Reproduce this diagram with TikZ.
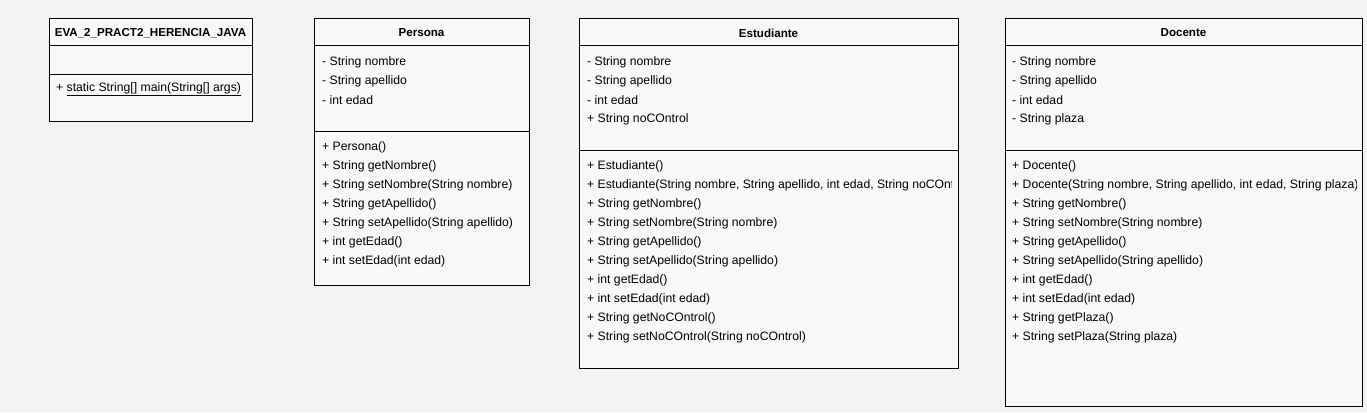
\documentclass[tikz,border=0pt]{standalone}
\usepackage{fontspec}
\setmainfont{Liberation Sans}
\definecolor{bgc}{HTML}{F2F2F2}
\definecolor{boxfill}{HTML}{F8F8F8}
\begin{document}
\begin{tikzpicture}[x=1pt,y=-1pt,
  classbox/.style={draw=black, fill=boxfill, line width=1pt, inner sep=0pt, anchor=north west},
  txt/.style={anchor=west, inner sep=0pt, font=\fontsize{12.2}{14}\selectfont, text=black},
  hdr/.style={anchor=center, inner sep=0pt, font=\fontsize{11.6}{14}\selectfont\bfseries, text=black},
  sep/.style={draw=black, line width=1pt}]
\fill[bgc] (0,0) rectangle (1367,412);
\useasboundingbox (0,0) rectangle (1367,412);

% ---------- main class ----------
\node[classbox, minimum width=203pt, minimum height=103pt] (mainc) at (49,18) {};
\draw[sep] (49,46) -- (252,46);
\draw[sep] (49,74) -- (252,74);
\node[hdr] (mainh) at (150.5,33) {EVA\_2\_PRACT2\_HERENCIA\_JAVA};
\node[txt] (mainm) at (56,89) {+ \underline{static String[] main(String[] args)}};

% ---------- Persona ----------
\node[classbox, minimum width=215pt, minimum height=267pt] (persona) at (314,18) {};
\draw[sep] (314,46) -- (529,46);
\draw[sep] (314,131) -- (529,131);
\node[hdr] (personah) at (421.5,33) {Persona};
\foreach \t [count=\i] in {- String nombre, - String apellido, - int edad}
  \node[txt] (pa\i) at (322,43+19*\i) {\t};
\foreach \t [count=\i] in {+ Persona(), + String getNombre(), + String setNombre(String nombre), + String getApellido(), + String setApellido(String apellido), + int getEdad(), + int setEdad(int edad)}
  \node[txt] (pm\i) at (322,128+19*\i) {\t};

% ---------- Estudiante ----------
\node[classbox, minimum width=379pt, minimum height=350pt] (estudiante) at (579,18) {};
\draw[sep] (579,46) -- (958,46);
\draw[sep] (579,150) -- (958,150);
\node[hdr] (estudianteh) at (768.5,33) {Estudiante};
\begin{scope}
\clip (580,47) rectangle (951,367);
\foreach \t [count=\i] in {- String nombre, - String apellido, - int edad, + String noCOntrol}
  \node[txt] (ea\i) at (587,43+19*\i) {\t};
\foreach \t [count=\i] in {+ Estudiante(), {+ Estudiante(String nombre, String apellido, int edad, String noCOntrol)}, + String getNombre(), + String setNombre(String nombre), + String getApellido(), + String setApellido(String apellido), + int getEdad(), + int setEdad(int edad), + String getNoCOntrol(), + String setNoCOntrol(String noCOntrol)}
  \node[txt] (em\i) at (587,147+19*\i) {\t};
\end{scope}

% ---------- Docente ----------
\node[classbox, minimum width=357pt, minimum height=388pt] (docente) at (1005,18) {};
\draw[sep] (1005,46) -- (1362,46);
\draw[sep] (1005,150) -- (1362,150);
\node[hdr] (docenteh) at (1183.5,33) {Docente};
\begin{scope}
\clip (1006,47) rectangle (1356,405);
\foreach \t [count=\i] in {- String nombre, - String apellido, - int edad, - String plaza}
  \node[txt] (da\i) at (1012,43+19*\i) {\t};
\foreach \t [count=\i] in {+ Docente(), {+ Docente(String nombre, String apellido, int edad, String plaza)}, + String getNombre(), + String setNombre(String nombre), + String getApellido(), + String setApellido(String apellido), + int getEdad(), + int setEdad(int edad), + String getPlaza(), + String setPlaza(String plaza)}
  \node[txt] (dm\i) at (1012,147+19*\i) {\t};
\end{scope}
\end{tikzpicture}
\end{document}
